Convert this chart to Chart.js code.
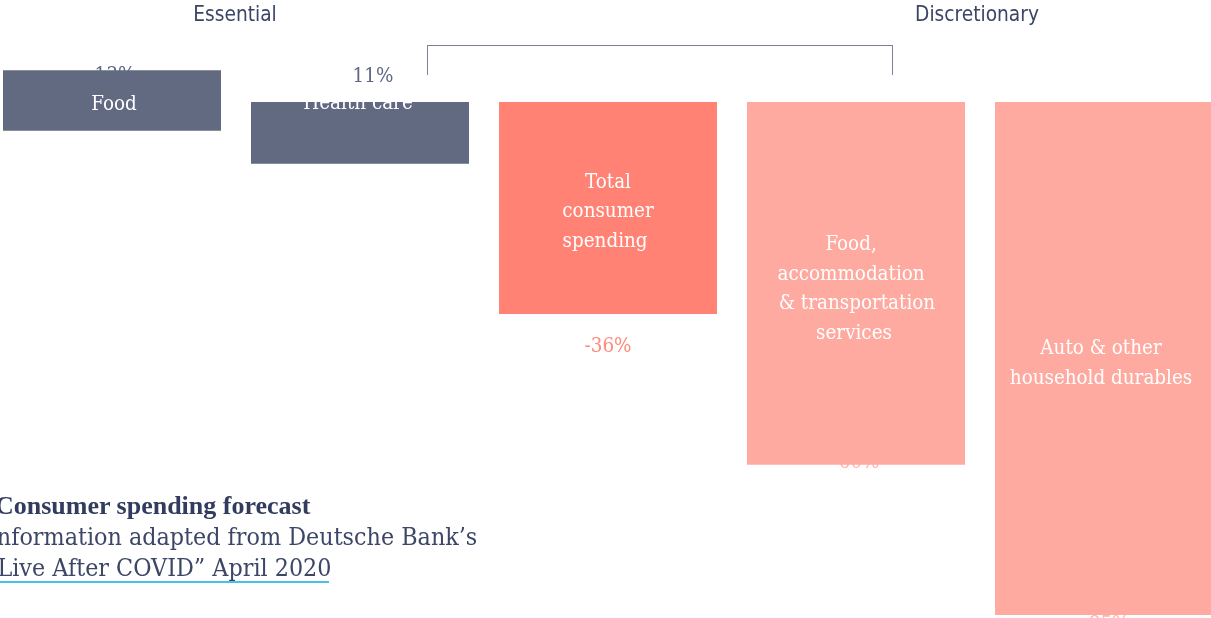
<!DOCTYPE html>
<html>
<head>
<meta charset="utf-8">
<script src="https://cdn.jsdelivr.net/npm/chart.js@4.4.1/dist/chart.umd.min.js"></script>
<style>
  html, body { margin: 0; padding: 0; width: 1211px; height: 618px; overflow: hidden; background: #ffffff; }
  #wrap { position: absolute; left: -12px; top: 0; width: 1240px; height: 691px; }
  .hdr { position: absolute; top: 2px; font-family: "DejaVu Sans Condensed", "DejaVu Sans"; font-stretch: condensed; font-size: 20.7px; color: #3b4566; transform: translateX(-50%); white-space: nowrap; }
  #bracket { position: absolute; left: 427px; top: 45px; width: 466px; height: 30px; border: 1.5px solid #7a809a; border-bottom: none; box-sizing: border-box; }
  .cap { position: absolute; white-space: nowrap; color: #3d4667; }
  #t1 { top: 491px; left: -5px; font-family: "Liberation Serif"; font-weight: bold; font-size: 26px; color: #333c5e; }
  #t2 { top: 522px; left: -12px; font-family: "DejaVu Serif Condensed", "DejaVu Serif"; font-stretch: condensed; font-size: 24.8px; }
  #t3 { top: 553px; left: -14px; font-family: "DejaVu Serif Condensed", "DejaVu Serif"; font-stretch: condensed; font-size: 24.8px; }
  #uline { position: absolute; left: 0; top: 581px; width: 329px; height: 2px; background: #45c2ea; }
</style>
</head>
<body>
<div id="wrap"><canvas id="c" width="1240" height="691"></canvas></div>
<div class="hdr" style="left:235px">Essential</div>
<div class="hdr" style="left:977px">Discretionary</div>
<div id="bracket"></div>
<div class="cap" id="t1">Consumer spending forecast</div>
<div class="cap" id="t2">Information adapted from Deutsche Bank’s</div>
<div class="cap" id="t3">“Live After COVID” April 2020</div>
<div id="uline"></div>
<script>
// Categories (multi-line labels drawn inside the bars)
const categories = [
  ["Food"],
  ["Health care"],
  ["Total", "consumer", "spending "],
  ["Food, ", "accommodation ", " & transportation", "services"],
  ["Auto & other", "household durables"]
];
// Forecast change, percent (value labels)
const changePct = [13, 11, -36, -60, -85];
// Bar extents as drawn in the picture (chart units)
const barStart = [5.4, 0, 0, 0, 0];
const barEnd = [-4.9, -10.5, -36, -61.6, -87.1];

const barColors = ["#626a82", "#626a82", "#ff8274", "#ffaaa0", "#ffaaa0"];
const pctColors = ["#5f6787", "#5f6787", "#ff8a7d", "#ffb3aa", "#ffb3aa"];

const labelPlugin = {
  id: "barLabels",
  beforeDatasetsDraw(chart, args, opts) {
    const ctx = chart.ctx;
    const meta = chart.getDatasetMeta(0);
    ctx.save();
    ctx.font = '20.4px "DejaVu Serif Condensed", "DejaVu Serif"';
    ctx.textAlign = "center";
    ctx.textBaseline = "middle";
    meta.data.forEach((el, i) => {
      const top = Math.min(el.y, el.base), bottom = Math.max(el.y, el.base);
      const v = changePct[i];
      const y = v >= 0 ? top + opts.pctOffset[i] : bottom + opts.pctOffset[i];
      ctx.fillStyle = pctColors[i];
      ctx.fillText(v + "%", el.x + opts.pctDx[i], y);
    });
    ctx.restore();
  },
  afterDatasetsDraw(chart, args, opts) {
    const ctx = chart.ctx;
    const meta = chart.getDatasetMeta(0);
    ctx.save();
    ctx.font = '20.4px "DejaVu Serif Condensed", "DejaVu Serif"';
    ctx.textAlign = "center";
    ctx.textBaseline = "middle";
    ctx.fillStyle = "#ffffff";
    const lh = 29.5;
    meta.data.forEach((el, i) => {
      const lines = categories[i];
      const mid = (el.y + el.base) / 2 + opts.catOffset[i];
      const y0 = mid - (lines.length - 1) * lh / 2;
      lines.forEach((t, j) => ctx.fillText(t, el.x + opts.catDx[i], y0 + j * lh));
    });
    ctx.restore();
  }
};

new Chart(document.getElementById("c"), {
  type: "bar",
  data: {
    labels: categories.map(c => c.join(" ")),
    datasets: [{
      data: barStart.map((s, i) => [s, barEnd[i]]),
      backgroundColor: barColors,
      borderWidth: 0,
      borderSkipped: false,
      barPercentage: 0.879,
      categoryPercentage: 1.0
    }]
  },
  options: {
    responsive: false,
    devicePixelRatio: 1,
    animation: false,
    layout: { padding: 0 },
    plugins: {
      legend: { display: false },
      tooltip: { enabled: false },
      barLabels: {
        pctOffset: [5, -25, 33, -2, 10],
        pctDx: [3, 13, 0, 0, 2],
        catOffset: [4, -29, 4, 6, 5],
        catDx: [2, -2, 0, -2, -3]
      }
    },
    scales: {
      x: { display: false },
      y: { display: false, min: -100, max: 17.32 }
    }
  },
  plugins: [labelPlugin]
});
</script>
</body>
</html>
